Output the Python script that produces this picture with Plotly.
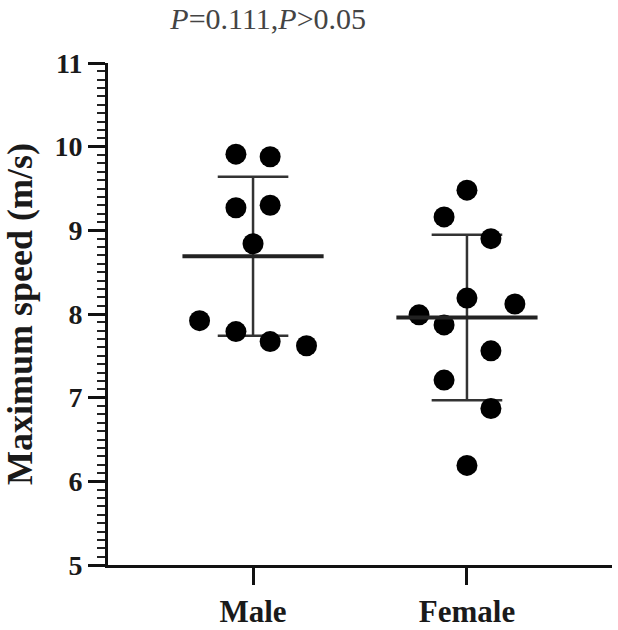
import numpy as np
import plotly.graph_objects as go

categories = ["Male", "Female"]
male_speed = [9.91, 9.88, 9.27, 9.30, 8.84, 7.92, 7.79, 7.67, 7.62]
male_jitter = [-0.08, 0.08, -0.08, 0.08, 0.0, -0.25, -0.08, 0.08, 0.25]
female_speed = [9.48, 9.16, 8.90, 8.19, 8.12, 7.99, 7.87, 7.56, 7.21, 6.87, 6.19]
female_jitter = [0.0, -0.107, 0.112, 0.0, 0.224, -0.224, -0.107, 0.112, -0.107, 0.112, 0.0]
y_ticks = [5, 6, 7, 8, 9, 10, 11]
title_text = "<i>P</i>=0.111,<i>P</i>>0.05"
y_title = "Maximum speed (m/s)"

groups = [male_speed, female_speed]
jitters = [male_jitter, female_jitter]

fig = go.Figure()
serif = "Liberation Serif"

for i, (vals, jit) in enumerate(zip(groups, jitters)):
    vals = np.array(vals)
    m = vals.mean()
    sd = vals.std(ddof=1)
    fig.add_trace(go.Scatter(x=[i, i], y=[m - sd, m + sd], mode="lines",
                             line=dict(color="#333", width=2.5), showlegend=False, hoverinfo="skip"))
    for v in (m - sd, m + sd):
        fig.add_trace(go.Scatter(x=[i - 0.165, i + 0.165], y=[v, v], mode="lines",
                                 line=dict(color="#333", width=2.5), showlegend=False, hoverinfo="skip"))
    fig.add_trace(go.Scatter(x=[i + j for j in jit], y=vals, mode="markers",
                             marker=dict(color="black", size=21), showlegend=False))
    fig.add_trace(go.Scatter(x=[i - 0.33, i + 0.33], y=[m, m], mode="lines",
                             line=dict(color="#222", width=4), showlegend=False, hoverinfo="skip"))

fig.update_layout(
    width=618, height=630,
    margin=dict(l=108, r=6, t=63, b=65),
    plot_bgcolor="white", paper_bgcolor="white",
    title=dict(text=title_text, x=0.434, xref="container", xanchor="center", y=0.971, yanchor="middle",
               font=dict(family=serif, size=30, color="#444")),
)
fig.update_xaxes(
    range=[-0.678, 1.678], tickvals=[0, 1], ticktext=["<b>%s</b>" % c for c in categories],
    showline=True, linecolor="#111", linewidth=3, ticks="outside", ticklen=17, tickwidth=3,
    tickcolor="#111", showgrid=False, zeroline=False, automargin=False,
    tickfont=dict(family=serif, size=31, color="#1a1a1a"),
)
fig.update_yaxes(
    range=[5, 11], tickvals=y_ticks,
    ticktext=["<b>%d</b>" % v for v in y_ticks],
    showline=True, linecolor="#111", linewidth=3, ticks="outside", ticklen=17, tickwidth=2.5,
    tickcolor="#111", showgrid=False, zeroline=False, automargin=False,
    tickfont=dict(family=serif, size=28, color="#1a1a1a"),
    minor=dict(dtick=0.1, ticks="outside", ticklen=8, tickwidth=1.5, tickcolor="#222", showgrid=False),
    title=dict(text="<b>" + y_title + "</b>", font=dict(family=serif, size=36, color="#1a1a1a"), standoff=14),
)

fig.write_html("out.html")
